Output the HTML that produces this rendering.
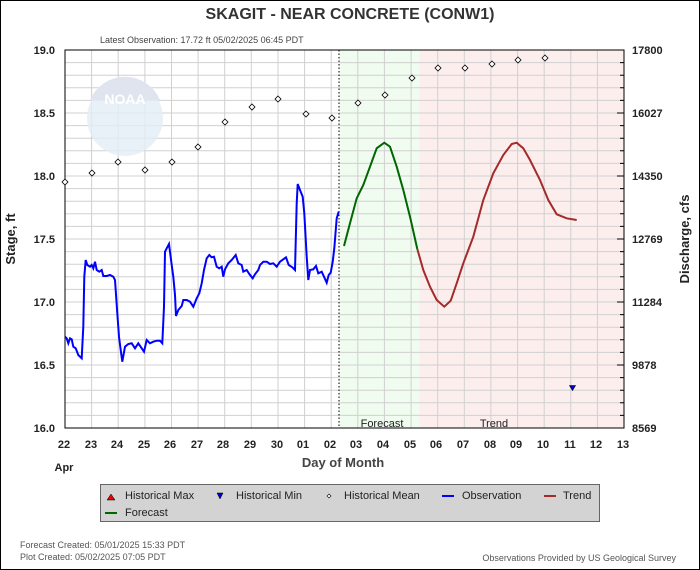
<!DOCTYPE html>
<html><head><style>body{margin:0;background:#fff}svg{display:block}text{font-family:"Liberation Sans",sans-serif}</style></head><body>
<svg width="700" height="570" xmlns="http://www.w3.org/2000/svg">
<rect x="0.5" y="0.5" width="699" height="569" fill="#fff" stroke="#000"/>
<text x="350" y="19" text-anchor="middle" font-size="16" font-weight="bold" fill="#333">SKAGIT - NEAR CONCRETE  (CONW1)</text>
<text x="100" y="43" font-size="9" fill="#444">Latest Observation: 17.72 ft 05/02/2025 06:45 PDT</text>
<rect x="339" y="50" width="80.6" height="378" fill="#effcef"/>
<rect x="419.6" y="50" width="204.4" height="378" fill="#fdeeee"/>
<g stroke="#d0d0d0" stroke-width="1">
<path d="M65,62.6H624M65,75.2H624M65,87.8H624M65,100.4H624M65,113H624M65,125.6H624M65,138.2H624M65,150.8H624M65,163.4H624M65,176H624M65,188.6H624M65,201.2H624M65,213.8H624M65,226.4H624M65,239H624M65,251.6H624M65,264.2H624M65,276.8H624M65,289.4H624M65,302H624M65,314.6H624M65,327.2H624M65,339.8H624M65,352.4H624M65,365H624M65,377.6H624M65,390.2H624M65,402.8H624M65,415.4H624"/>
<path d="M91.6,50V428M118.2,50V428M144.9,50V428M171.5,50V428M198.1,50V428M224.7,50V428M251.3,50V428M278,50V428M304.6,50V428M331.2,50V428M357.8,50V428M384.4,50V428M411.1,50V428M437.7,50V428M464.3,50V428M490.9,50V428M517.6,50V428M544.2,50V428M570.8,50V428M597.4,50V428"/>
</g>
<circle cx="125" cy="118" r="38" fill="#e4eef6" opacity="0.8"/>
<path d="M90,100 A38,38 0 0 1 160,100 Z" fill="#dfe4ee"/>
<text x="125" y="104" text-anchor="middle" font-size="14" font-weight="bold" fill="#fff">NOAA</text>
<line x1="339" y1="50" x2="339" y2="428" stroke="#000" stroke-dasharray="1.5,2"/>
<rect x="65" y="50" width="559" height="378" fill="none" stroke="#000"/>
<g stroke="#000"><path d="M624,62.6h-4M624,75.2h-4M624,87.8h-4M624,100.4h-4M624,125.6h-4M624,138.2h-4M624,150.8h-4M624,163.4h-4M624,188.6h-4M624,201.2h-4M624,213.8h-4M624,226.4h-4M624,251.6h-4M624,264.2h-4M624,276.8h-4M624,289.4h-4M624,314.6h-4M624,327.2h-4M624,339.8h-4M624,352.4h-4M624,377.6h-4M624,390.2h-4M624,402.8h-4M624,415.4h-4M624,113h-7M624,176h-7M624,239h-7M624,302h-7M624,365h-7"/></g>
<g font-size="11" font-weight="bold" fill="#222">
<text x="55" y="54" text-anchor="end">19.0</text><text x="55" y="117" text-anchor="end">18.5</text><text x="55" y="180" text-anchor="end">18.0</text><text x="55" y="243" text-anchor="end">17.5</text><text x="55" y="306" text-anchor="end">17.0</text><text x="55" y="369" text-anchor="end">16.5</text><text x="55" y="432" text-anchor="end">16.0</text>
<text x="632" y="54">17800</text><text x="632" y="117">16027</text><text x="632" y="180">14350</text><text x="632" y="243">12769</text><text x="632" y="306">11284</text><text x="632" y="369">9878</text><text x="632" y="432">8569</text>
</g>
<g font-size="11" font-weight="bold" fill="#222" text-anchor="middle">
<text x="64" y="448">22</text><text x="91" y="448">23</text><text x="117" y="448">24</text><text x="144" y="448">25</text><text x="170" y="448">26</text><text x="197" y="448">27</text><text x="223" y="448">28</text><text x="250" y="448">29</text><text x="277" y="448">30</text><text x="303" y="448">01</text><text x="330" y="448">02</text><text x="356" y="448">03</text><text x="383" y="448">04</text><text x="410" y="448">05</text><text x="436" y="448">06</text><text x="463" y="448">07</text><text x="490" y="448">08</text><text x="516" y="448">09</text><text x="543" y="448">10</text><text x="570" y="448">11</text><text x="596" y="448">12</text><text x="623" y="448">13</text>
<text x="64" y="471">Apr</text>
</g>
<text x="343" y="467" text-anchor="middle" font-size="13" font-weight="bold" fill="#444">Day of Month</text>
<text transform="translate(15,239) rotate(-90)" text-anchor="middle" font-size="13" font-weight="bold" fill="#222">Stage, ft</text>
<text transform="translate(689,239) rotate(-90)" text-anchor="middle" font-size="13" font-weight="bold" fill="#222">Discharge, cfs</text>
<text x="382" y="427" text-anchor="middle" font-size="11" fill="#222">Forecast</text>
<text x="494" y="427" text-anchor="middle" font-size="11" fill="#222">Trend</text>
<g fill="#fff" stroke="#000" stroke-width="0.8">
<path d="M65,179l3,3l-3,3l-3,-3z"/><path d="M92,170l3,3l-3,3l-3,-3z"/><path d="M118,159l3,3l-3,3l-3,-3z"/><path d="M145,167l3,3l-3,3l-3,-3z"/><path d="M172,159l3,3l-3,3l-3,-3z"/><path d="M198,144l3,3l-3,3l-3,-3z"/><path d="M225,119l3,3l-3,3l-3,-3z"/><path d="M252,104l3,3l-3,3l-3,-3z"/><path d="M278,96l3,3l-3,3l-3,-3z"/><path d="M306,111l3,3l-3,3l-3,-3z"/><path d="M332,115l3,3l-3,3l-3,-3z"/><path d="M358,100l3,3l-3,3l-3,-3z"/><path d="M385,92l3,3l-3,3l-3,-3z"/><path d="M412,75l3,3l-3,3l-3,-3z"/><path d="M438,65l3,3l-3,3l-3,-3z"/><path d="M465,65l3,3l-3,3l-3,-3z"/><path d="M492,61l3,3l-3,3l-3,-3z"/><path d="M518,57l3,3l-3,3l-3,-3z"/><path d="M545,55l3,3l-3,3l-3,-3z"/>
</g>
<path d="M569.5,385.5h6l-3,5z" fill="#00c" stroke="#000" stroke-width="0.6"/>
<polyline fill="none" stroke="#0000ff" stroke-width="2" points="65,336.7 66.7,338.3 68.3,343.3 70,338.3 71.7,339.3 73.3,346.7 75.7,348.3 78.3,355 81.7,358.3 83.3,326.7 84.3,276.7 85.7,260 87.3,265 90,266.7 91.7,265 93.3,268.3 95,261.7 96.7,270 99.3,271.7 101.7,270 103.3,276 106.7,276 110,275 113.3,276.7 115,280 117.3,313.3 119,336.7 120.7,350 122.3,361.7 125,346.7 128.3,344 131.7,343.3 135,348.3 138.3,343.3 141.7,348.3 144,351.7 146.7,340 150,343.3 153.3,341.7 156.7,340.7 160,340.7 162.3,343.3 164,306.7 165,251.7 166.7,248.3 169,244 171.7,265 173.3,276.7 175,295 176,316 178.3,310 181.7,306 183.3,300 186.7,300 190,301.7 193.3,306.7 196.7,298.3 199.3,293.3 201.7,283.3 204,270 206.7,258.3 209.3,255 211.7,257.3 214,256.7 216.7,266.7 219.3,268.3 221.7,266.7 223.3,276.7 225,269.3 228.3,263.3 231.7,260 235.7,255 238.3,263.3 241.7,265 243.3,271.7 246.7,270 249.3,274 252.7,278.3 255,274.3 258.3,270 260,265 263.3,261.7 266.7,261.7 270,264 273.3,263.3 276.7,266.7 280,261.7 283.3,259.3 286,257.3 288.7,265 292.3,267.3 295,270 296.7,203.3 297.7,184 300,190 302.7,196.7 304.3,213.3 306.7,256.7 308.3,280 310,270 313.3,269.3 316,266 318.3,273.3 321.7,271.7 324,276.7 326.7,282.7 328.7,275 330.7,272.7 332.7,261.7 334.3,248.3 336.7,218.3 338.7,211.7"/>
<polyline fill="none" stroke="#006600" stroke-width="2" points="344,246 350,223.3 356.7,198.3 363.3,185 370,166.7 376.7,148.3 384.3,142.7 390,146.7 396.7,166.7 403.3,190 410,216.7 417.3,249"/>
<polyline fill="none" stroke="#a52a2a" stroke-width="2" points="417.3,249 423.3,270 430,286.7 436.7,300 444.3,306.7 450.7,300.7 456.7,283.3 463.3,263.3 473.3,236.7 483.3,200 493.3,173.3 503.3,155 511.7,144 516.7,142.7 523.3,148.3 530,160 540,180 548.3,200 556.7,214.3 566.7,218.3 576.7,220"/>
<rect x="100.5" y="484.5" width="499" height="37" fill="#d3d3d3" stroke="#666"/>
<g font-size="11" fill="#222">
<path d="M107,500l4,-6l4,6z" fill="#e00" stroke="#000" stroke-width="0.5"/><text x="125" y="499">Historical Max</text>
<path d="M217,493h6l-3,6z" fill="#00c" stroke="#000" stroke-width="0.5"/><text x="236" y="499">Historical Min</text>
<path d="M329,494l2,2l-2,2l-2,-2z" fill="#fff" stroke="#000" stroke-width="0.6"/><text x="344" y="499">Historical Mean</text>
<rect x="442" y="495" width="12" height="2" fill="#00f"/><text x="462" y="499">Observation</text>
<rect x="544" y="495" width="12" height="2" fill="#a52a2a"/><text x="563" y="499">Trend</text>
<rect x="105" y="512" width="12" height="2" fill="#006600"/><text x="125" y="516">Forecast</text>
</g>
<g font-size="9" fill="#555">
<text x="20" y="548">Forecast Created: 05/01/2025 15:33 PDT</text>
<text x="20" y="560">Plot Created: 05/02/2025 07:05 PDT</text>
<text x="676" y="561" text-anchor="end">Observations Provided by US Geological Survey</text>
</g>
</svg>
</body></html>
